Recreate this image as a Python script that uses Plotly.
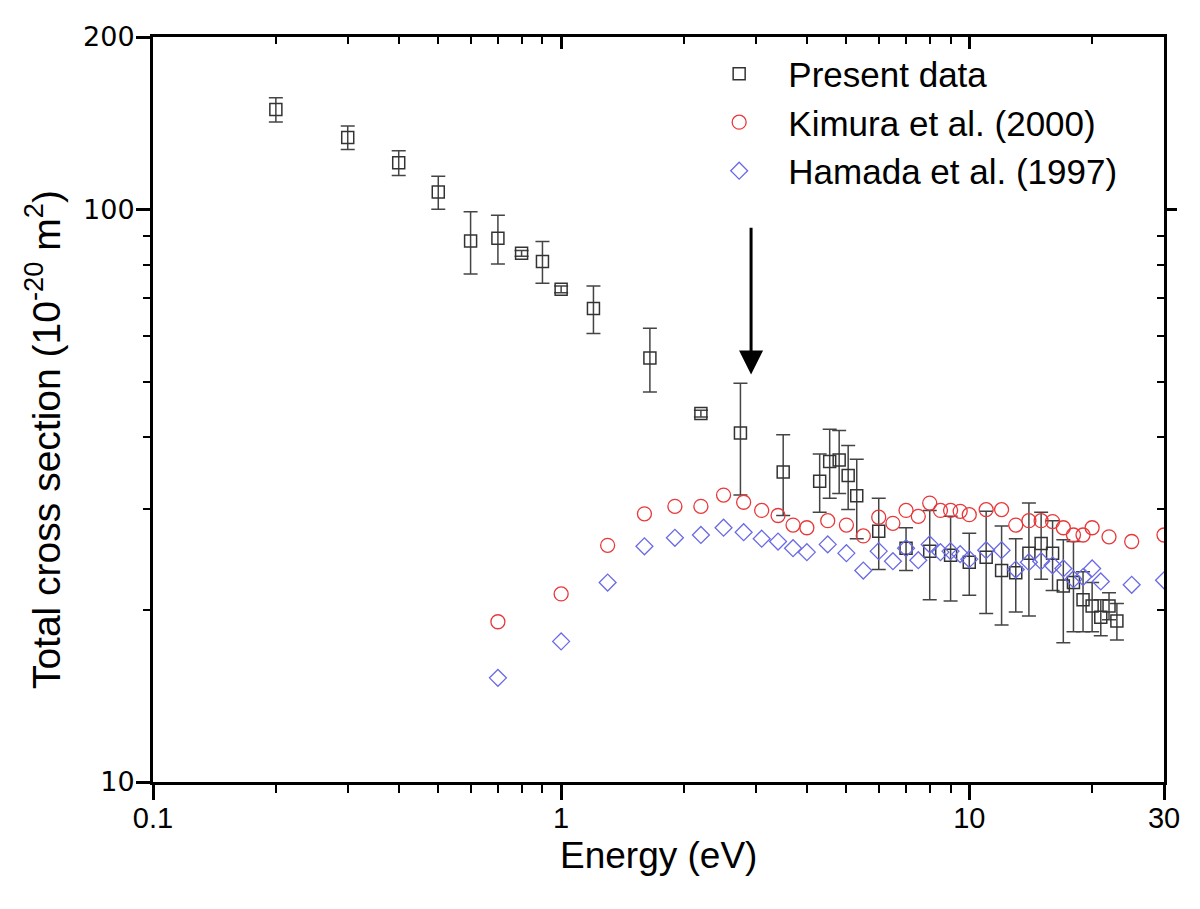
import math
import plotly.graph_objects as go

# ---------------- data ----------------
present_E = [0.2, 0.3, 0.4, 0.5, 0.6, 0.7, 0.8, 0.9, 1.0, 1.2, 1.65, 2.2, 2.75, 3.5, 4.3, 4.55,
             4.8, 5.05, 5.3, 6.0, 7.0, 8.0, 9.0, 10, 11, 12, 13, 14, 15, 16, 17, 18, 19, 20,
             21, 22, 23]
present_Q = [149.4, 133.5, 120.6, 107.2, 88.1, 89.0, 83.8, 81.1, 72.5, 67.1, 55.0, 44.0, 40.7,
             34.8, 33.5, 36.3, 36.5, 34.3, 31.6, 27.4, 25.6, 25.3, 24.9, 24.2, 24.7, 23.4, 23.2,
             25.1, 26.1, 25.1, 22.0, 22.3, 20.8, 20.3, 19.4, 20.3, 19.1]
present_err = [7.3, 6.3, 6.0, 7.1, 11.0, 8.7, 1.0, 6.8, 1.0, 6.4, 7.0, 0.6, 9.0, 5.6, 3.9, 5.0,
               4.6, 4.4, 5.0, 3.9, 2.2, 4.5, 4.2, 3.0, 5.0, 4.6, 3.4, 5.6, 3.5, 3.5, 4.5, 4.0,
               2.5, 2.0, 1.4, 1.1, 1.4]

kimura_E = [0.7, 1.0, 1.3, 1.6, 1.9, 2.2, 2.5, 2.8, 3.1, 3.4, 3.7, 4.0, 4.5, 5.0, 5.5, 6.0, 6.5,
            7.0, 7.5, 8.0, 8.5, 9.0, 9.5, 10, 11, 12, 13, 14, 15, 16, 17, 18, 19, 20, 22, 25, 30]
kimura_Q = [19.05, 21.3, 25.9, 29.4, 30.3, 30.3, 31.7, 30.8, 29.8, 29.2, 28.1, 27.8, 28.6, 28.1,
            26.9, 29.0, 28.3, 29.8, 29.1, 30.7, 29.8, 29.8, 29.7, 29.3, 29.9, 29.9, 28.1, 28.6,
            28.6, 28.5, 27.8, 27.0, 27.0, 27.8, 26.8, 26.3, 27.0]

hamada_E = [0.7, 1.0, 1.3, 1.6, 1.9, 2.2, 2.5, 2.8, 3.1, 3.4, 3.7, 4.0, 4.5, 5.0, 5.5, 6.0, 6.5,
            7.0, 7.5, 8.0, 8.5, 9.0, 9.5, 10, 11, 12, 13, 14, 15, 16, 17, 18, 19, 20, 21, 25, 30]
hamada_Q = [15.2, 17.6, 22.3, 25.8, 26.7, 27.0, 27.8, 27.3, 26.6, 26.3, 25.6, 25.2, 26.0, 25.1,
            23.4, 25.3, 24.3, 25.6, 24.4, 26.0, 25.2, 25.3, 25.0, 24.5, 25.4, 25.4, 23.5, 24.2,
            24.3, 23.9, 23.6, 22.6, 22.8, 23.6, 22.4, 22.1, 22.5]

x_major = [0.1, 1, 10, 30]
x_major_text = ["0.1", "1", "10", "30"]
x_minor = [0.2, 0.3, 0.4, 0.5, 0.6, 0.7, 0.8, 0.9, 2, 3, 4, 5, 6, 7, 8, 9, 20]
y_major = [10, 100, 200]
y_major_text = ["10", "100", "200"]
y_minor = [20, 30, 40, 50, 60, 70, 80, 90]
y_right_major = [100]
x_top_major = [1, 10]

arrow_E = 2.92
arrow_top, arrow_tip = 93.4, 51.5

x_range = [math.log10(0.1), math.log10(30)]
y_range = [math.log10(10), math.log10(200)]

FONT = "Liberation Sans, Arial, sans-serif"
WIDE = "DejaVu Sans, Verdana, sans-serif"
NB = "\u00a0\u00a0\u00a0"

fig = go.Figure()
fig.add_trace(go.Scatter(
    x=present_E, y=present_Q, mode="markers", name=NB + "Present data",
    marker=dict(symbol="square-open", size=12, color="#333333", line=dict(width=1.5, color="#333333")),
    error_y=dict(type="data", array=present_err, visible=True, color="#444444", thickness=1.5, width=7),
))
fig.add_trace(go.Scatter(
    x=kimura_E, y=kimura_Q, mode="markers", name=NB + "Kimura et al. (2000)",
    marker=dict(symbol="circle-open", size=14, color="#e8383a", line=dict(width=1.3, color="#e8383a")),
))
fig.add_trace(go.Scatter(
    x=hamada_E, y=hamada_Q, mode="markers", name=NB + "Hamada et al. (1997)",
    marker=dict(symbol="diamond-open", size=13, color="#6a6ae6", line=dict(width=1.3, color="#6a6ae6")),
))
# empty trace to create the mirrored top/right axes
fig.add_trace(go.Scatter(x=[], y=[], xaxis="x2", yaxis="y2", showlegend=False, hoverinfo="skip"))

fig.update_layout(
    width=1200, height=909,
    margin=dict(l=145, r=44, t=29, b=135),
    paper_bgcolor="white", plot_bgcolor="white",
    showlegend=True,
    legend=dict(x=0.560, y=0.990, xanchor="left", yanchor="top",
                font=dict(family=FONT, size=35, color="black"),
                bgcolor="rgba(0,0,0,0)", tracegroupgap=0, itemsizing="trace"),
    xaxis=dict(type="log", showgrid=False, zeroline=False, linecolor="black",
               range=x_range, showline=True, linewidth=3, mirror=True,
               tickmode="array", tickvals=x_major, ticktext=x_major_text,
               ticks="outside", ticklen=15, tickwidth=3, tickcolor="black",
               ticklabelstandoff=-7,
               tickfont=dict(family=FONT, size=29, color="black"),
               minor=dict(tickmode="array", tickvals=x_minor, ticks="outside", ticklen=8,
                          tickwidth=2, tickcolor="black", showgrid=False)),
    yaxis=dict(type="log", showgrid=False, zeroline=False, linecolor="black",
               range=y_range, showline=True, linewidth=3, mirror=True,
               tickmode="array", tickvals=y_major, ticktext=y_major_text,
               ticks="outside", ticklen=14, tickwidth=3, tickcolor="black",
               ticklabelstandoff=-4,
               tickfont=dict(family=WIDE, size=27, color="black"),
               minor=dict(tickmode="array", tickvals=y_minor, ticks="outside", ticklen=7,
                          tickwidth=2, tickcolor="black", showgrid=False)),
    xaxis2=dict(type="log", range=x_range, overlaying="x", side="top", anchor="y2",
                showgrid=False, zeroline=False, showline=False, showticklabels=False,
                tickmode="array", tickvals=x_top_major, ticks="inside", ticklen=12, tickwidth=3,
                tickcolor="black",
                minor=dict(tickmode="array", tickvals=x_minor, ticks="inside", ticklen=7,
                           tickwidth=2, tickcolor="black", showgrid=False)),
    yaxis2=dict(type="log", range=y_range, overlaying="y", side="right", anchor="x2",
                showgrid=False, zeroline=False, showline=False, showticklabels=False,
                tickmode="array", tickvals=y_right_major, ticks="outside", ticklen=12, tickwidth=3,
                tickcolor="black",
                minor=dict(tickmode="array", tickvals=y_minor, ticks="inside", ticklen=7,
                           tickwidth=2, tickcolor="black", showgrid=False)),
)

# axis titles
fig.add_annotation(x=0.5, y=-0.098, xref="paper", yref="paper", xanchor="center", yanchor="middle",
                   text="Energy (eV)", showarrow=False,
                   font=dict(family=FONT, size=37, color="black"))
fig.add_annotation(x=-0.109, y=0.46, xref="paper", yref="paper", xanchor="center", yanchor="middle",
                   text="Total cross section (10<sup>-20</sup> m<sup>2</sup>)", textangle=-90,
                   showarrow=False, font=dict(family=FONT, size=39, color="black"))

# arrow
fig.add_annotation(x=math.log10(arrow_E), y=math.log10(arrow_tip),
                   ax=math.log10(arrow_E), ay=math.log10(arrow_top),
                   xref="x", yref="y", axref="x", ayref="y", text="",
                   showarrow=True, arrowhead=2, arrowsize=1.6, arrowwidth=3, arrowcolor="black")

fig.write_html("out.html")
